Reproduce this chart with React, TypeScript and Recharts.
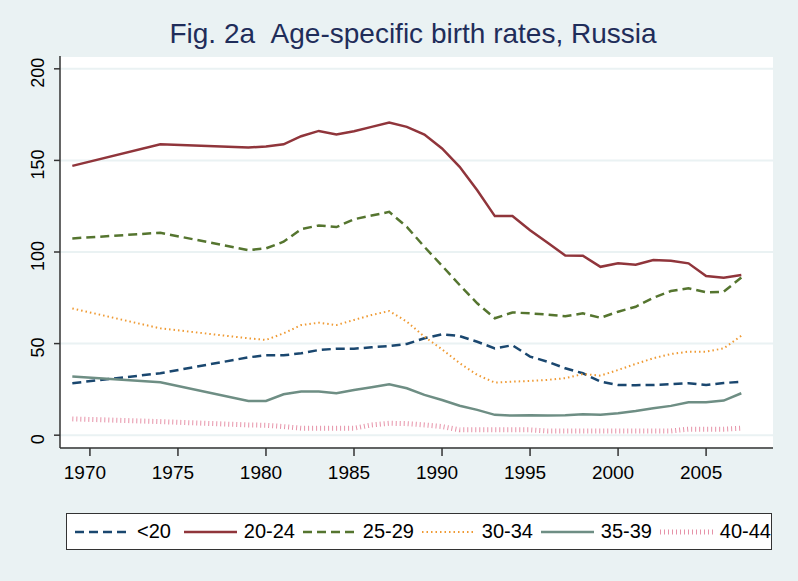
import { CartesianGrid, Legend, Line, LineChart, XAxis, YAxis } from "recharts";

const years = [
  1969, 1974, 1979, 1980, 1981, 1982, 1983, 1984, 1985, 1986, 1987, 1988, 1989, 1990, 1991, 1992,
  1993, 1994, 1995, 1996, 1997, 1998, 1999, 2000, 2001, 2002, 2003, 2004, 2005, 2006, 2007,
];

const under20 = [
  28.4, 33.8, 42.5, 43.6, 43.6, 44.7, 46.5, 47.2, 47.2, 48.0, 48.7, 49.8, 52.9, 55.1, 54.1, 51.0,
  47.4, 49.1, 42.9, 40.1, 36.5, 33.8, 29.2, 27.4, 27.3, 27.4, 27.8, 28.4, 27.4, 28.5, 29.1,
];
const age2024 = [
  147.0, 158.8, 157.0, 157.6, 158.8, 163.2, 166.1, 164.1, 165.9, 168.3, 170.7, 168.3, 164.1, 156.5,
  146.5, 133.7, 119.6, 119.6, 111.9, 105.0, 98.1, 98.0, 91.9, 93.8, 93.0, 95.6, 95.2, 93.8, 86.9,
  85.9, 87.4,
];
const age2529 = [
  107.4, 110.5, 101.0, 102.0, 105.6, 112.5, 114.5, 113.6, 117.9, 119.9, 121.9, 113.7, 102.8, 92.5,
  82.0, 72.0, 63.8, 67.0, 66.5, 65.8, 64.9, 66.5, 64.1, 67.4, 70.1, 75.0, 78.7, 80.2, 78.0, 78.3,
  86.1,
];
const age3034 = [
  69.2, 58.3, 52.9, 52.0, 55.6, 60.1, 61.4, 60.1, 62.9, 65.6, 67.8, 62.0, 53.8, 46.9, 39.3, 32.9,
  28.7, 29.2, 29.6, 30.2, 31.1, 33.4, 32.5, 35.6, 38.9, 42.0, 44.3, 45.6, 45.6, 47.4, 54.3,
];
const age3539 = [
  32.0, 28.9, 18.7, 18.7, 22.3, 23.8, 23.8, 22.9, 24.7, 26.2, 27.8, 25.6, 22.0, 19.2, 16.1, 13.8,
  11.1, 10.7, 10.9, 10.7, 10.9, 11.4, 11.1, 12.0, 13.2, 14.7, 16.0, 18.0, 18.0, 18.9, 22.9,
];
const age4044 = [
  8.9, 7.4, 5.6, 5.4, 4.7, 3.8, 3.8, 3.8, 3.8, 5.6, 6.5, 6.3, 5.6, 4.7, 2.9, 2.9,
  2.9, 2.9, 2.9, 2.3, 2.3, 2.3, 2.3, 2.3, 2.3, 2.3, 2.3, 3.3, 3.3, 3.3, 3.8,
];

const xTicks = [1970, 1975, 1980, 1985, 1990, 1995, 2000, 2005];
const yTicks = [0, 50, 100, 150, 200];

const data = years.map((year, i) => ({
  year,
  u20: under20[i],
  a2024: age2024[i],
  a2529: age2529[i],
  a3034: age3034[i],
  a3539: age3539[i],
  a4044: age4044[i],
}));

const series = [
  { key: "u20", name: "<20", color: "#1a476f", width: 2.5, dash: "9 5", opacity: 1 },
  { key: "a2024", name: "20-24", color: "#90353b", width: 2.5, dash: undefined, opacity: 1 },
  { key: "a2529", name: "25-29", color: "#55752f", width: 2.5, dash: "9 5", opacity: 1 },
  { key: "a3034", name: "30-34", color: "#ef9a33", width: 2, dash: "1.5 3", opacity: 1 },
  { key: "a3539", name: "35-39", color: "#6e8e84", width: 2.5, dash: undefined, opacity: 1 },
  { key: "a4044", name: "40-44", color: "#d64a6e", width: 5, dash: "1 3", opacity: 0.6 },
];

const font = "'Liberation Sans', Arial, sans-serif";

// Stata puts its labels a touch off-centre from the ticks
const YTick = ({ x, y, payload }: any) => (
  <text
    transform={`translate(${x - 10}, ${y + 4}) rotate(-90)`}
    textAnchor="middle"
    fontSize={18}
    fontFamily={font}
    fill="#000"
  >
    {payload.value}
  </text>
);

const XTick = ({ x, y, payload }: any) => (
  <text x={x - 5} y={y + 21} textAnchor="middle" fontSize={19} fontFamily={font} fill="#000">
    {payload.value}
  </text>
);

const LegendBox = () => (
  <div
    style={{
      display: "flex",
      alignItems: "center",
      height: 37,
      background: "#fff",
      border: "1px solid #333",
      boxSizing: "border-box",
      fontFamily: font,
      fontSize: 20,
      color: "#000",
      whiteSpace: "nowrap",
    }}
  >
    {series.map((s) => (
      <div key={s.key} style={{ display: "flex", alignItems: "center", width: 119 }}>
        <svg width={62} height={14} style={{ marginLeft: 8 }}>
          <line
            x1={0}
            y1={7}
            x2={53}
            y2={7}
            stroke={s.color}
            strokeWidth={s.width}
            strokeDasharray={s.dash}
            strokeOpacity={s.opacity}
          />
        </svg>
        <span>{s.name}</span>
      </div>
    ))}
  </div>
);

export default function App() {
  return (
    <div
      style={{
        position: "absolute",
        left: 0,
        top: 0,
        width: 798,
        height: 581,
        background: "#eaf2f3",
      }}
    >
      <div
        style={{
          position: "absolute",
          left: 50,
          width: 726,
          top: 18,
          textAlign: "center",
          fontFamily: font,
          fontSize: 28,
          color: "#1f2d5a",
          whiteSpace: "nowrap",
        }}
      >
        Fig. 2a&nbsp;&nbsp;Age-specific birth rates, Russia
      </div>
      <LineChart
        width={798}
        height={581}
        data={data}
        margin={{ top: 56, right: 25, bottom: 103, left: 20 }}
      >
        <CartesianGrid vertical={false} stroke="#eaf2f3" strokeWidth={2} fill="#fff" />
        <XAxis
          dataKey="year"
          type="number"
          domain={[1968.3, 2008.8]}
          ticks={xTicks}
          allowDataOverflow
          height={30}
          tickSize={8}
          tickMargin={2}
          stroke="#333"
          strokeWidth={1.5}
          tick={<XTick />}
        />
        <YAxis
          domain={[-7, 207]}
          ticks={yTicks}
          allowDataOverflow
          width={40}
          tickSize={6}
          tickMargin={0}
          stroke="#333"
          strokeWidth={1.5}
          tick={<YTick />}
        />
        <Legend
          layout="horizontal"
          verticalAlign="middle"
          content={<LegendBox />}
          wrapperStyle={{ top: 513, left: 66, width: 706 }}
        />
        {series.map((s) => (
          <Line
            key={s.key}
            dataKey={s.key}
            name={s.name}
            type="linear"
            stroke={s.color}
            strokeWidth={s.width}
            strokeDasharray={s.dash}
            strokeOpacity={s.opacity}
            dot={false}
            activeDot={false}
            isAnimationActive={false}
          />
        ))}
      </LineChart>
    </div>
  );
}
